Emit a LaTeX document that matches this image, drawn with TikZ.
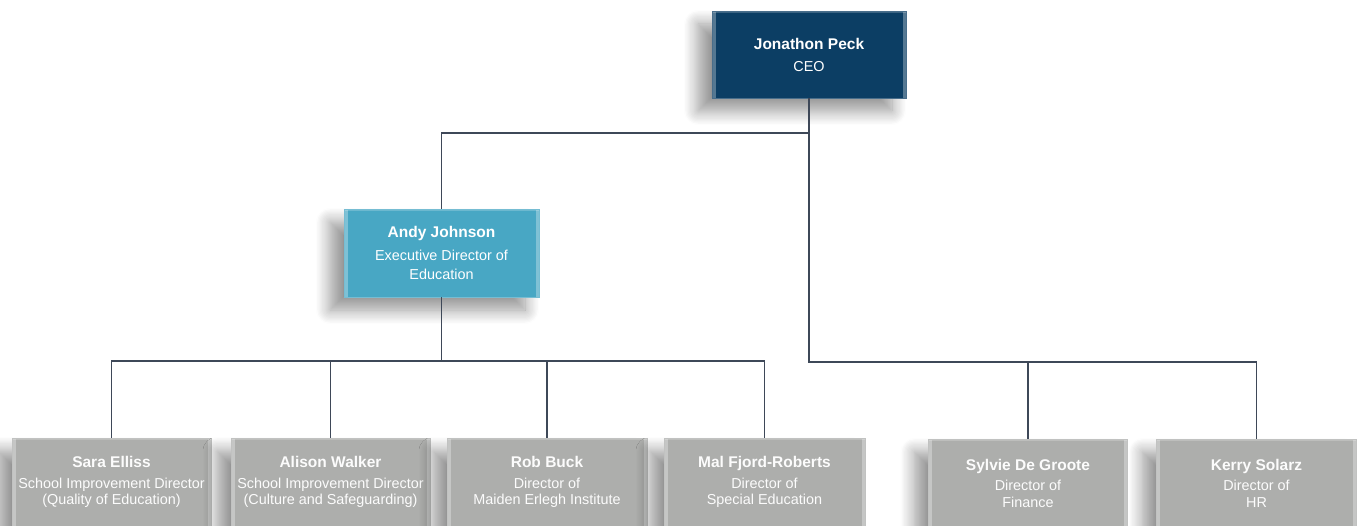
\documentclass[tikz,border=0pt]{standalone}
\usepackage{fontspec}
\setmainfont{Liberation Sans}
\usetikzlibrary{shadows.blur}
\definecolor{ceoblue}{RGB}{12,62,100}
\definecolor{edublue}{RGB}{72,167,196}
\definecolor{staffgray}{RGB}{173,174,172}
\definecolor{linkgray}{RGB}{62,72,88}
\newcommand{\pname}[1]{{\fontsize{15.5}{19}\selectfont\bfseries #1}}

\begin{document}
\begin{tikzpicture}[x=1pt, y=-1pt,
    card/.style={rectangle, fill=#1, draw=#1!75!white, line width=0.8pt,
        minimum width=197pt, minimum height=88pt, inner sep=0pt, align=center,
        blur shadow={shadow xshift=-14pt, shadow yshift=-13pt,
            shadow blur radius=14pt, shadow blur steps=12, shadow opacity=42},
        path picture={
            \fill[white, opacity=0.3] (path picture bounding box.north west)
                rectangle ([xshift=3.5pt]path picture bounding box.south west);
            \fill[white, opacity=0.3] (path picture bounding box.north east)
                rectangle ([xshift=-3.5pt]path picture bounding box.south east);
            \fill[white, opacity=0.2] (path picture bounding box.north west)
                rectangle ([yshift=-2pt]path picture bounding box.north east);
        }},
    chief/.style={card=ceoblue, text=white, font=\fontsize{14.4}{19}\selectfont},
    leader/.style={card=edublue, text=white, font=\fontsize{14.4}{19}\selectfont},
    staff/.style={card=staffgray, text=white!96!staffgray, font=\fontsize{14.4}{16.5}\selectfont},
    link/.style={draw=linkgray, line width=1.5pt}]

    \useasboundingbox (0,0) rectangle (1361,526);

    % Top: chief executive
    \node[chief, minimum width=194pt, minimum height=87pt] (ceo) at (809,54.5)
        {\pname{Jonathon Peck}\\[3pt] CEO};

    % Middle: education lead
    \node[leader, minimum width=195pt] (andy) at (441.5,253)
        {\pname{Andy Johnson}\\[4pt] Executive Director of\\ Education};

    % Bottom: directors
    \node[staff, minimum width=199pt] (sara) at (111.5,482)
        {\pname{Sara Elliss}\\[4pt] School Improvement Director\\ (Quality of Education)};
    \node[staff, minimum width=199pt] (alison) at (330.5,482)
        {\pname{Alison Walker}\\[4pt] School Improvement Director\\ (Culture and Safeguarding)};
    \node[staff, minimum width=200pt] (rob) at (547,482)
        {\pname{Rob Buck}\\[4pt] Director of\\ Maiden Erlegh Institute};
    \node[staff, minimum width=201pt] (mal) at (764.5,482)
        {\pname{Mal Fjord-Roberts}\\[4pt] Director of\\ Special Education};
    \node[staff, minimum width=199pt] (sylvie) at (1028,483)
        {\pname{Sylvie De Groote}\\[4pt] Director of\\ Finance};
    \node[staff, minimum width=200pt] (kerry) at (1256.5,483)
        {\pname{Kerry Solarz}\\[4pt] Director of\\ HR};

    % Connectors
    \coordinate (ceobus) at (809,133);
    \coordinate (finbus) at (809,362);
    \coordinate (edubus) at (441.5,361);
    \draw[link] (ceo.south) -- (ceobus) -| (andy.north);
    \draw[link] (ceobus) -- (finbus) -| (sylvie.north);
    \draw[link] (finbus) -| (kerry.north);
    \draw[link] (andy.south) -- (edubus) -| (sara.north);
    \draw[link] (edubus) -| (alison.north);
    \draw[link] (edubus) -| (rob.north);
    \draw[link] (edubus) -| (mal.north);
\end{tikzpicture}
\end{document}
